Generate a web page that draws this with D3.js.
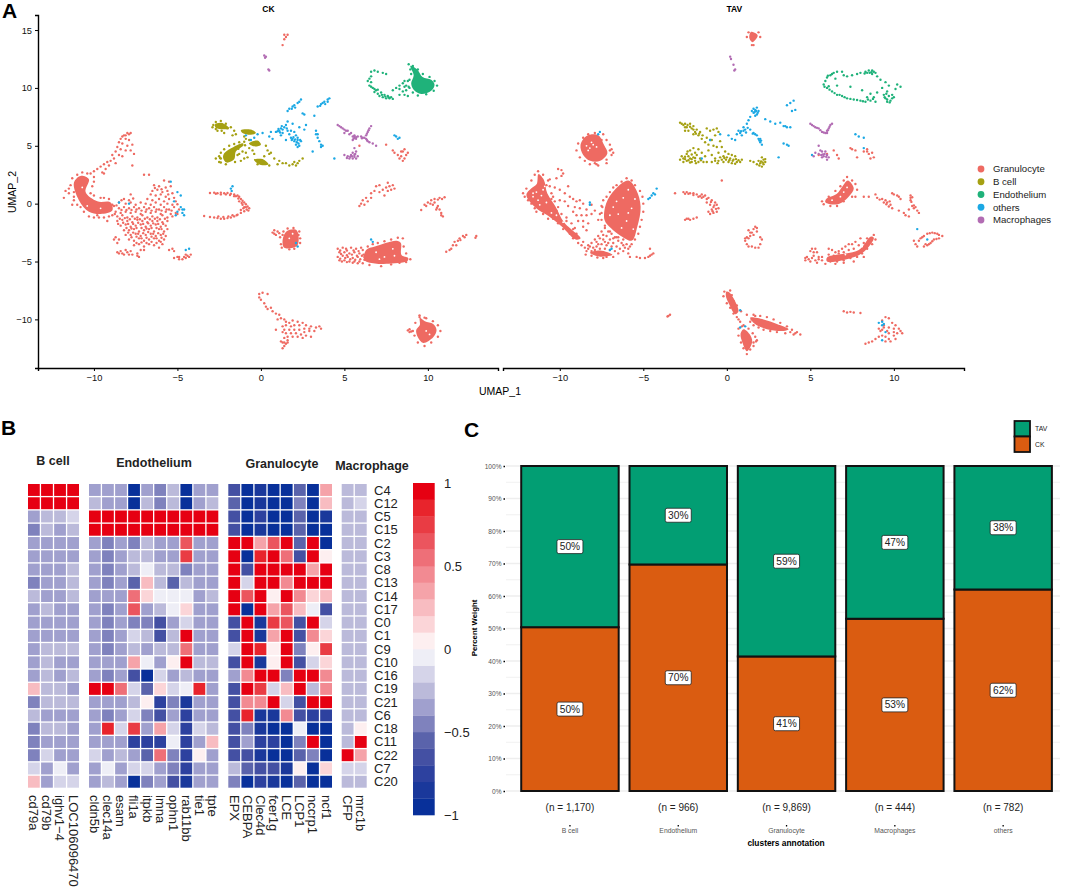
<!DOCTYPE html>
<html>
<head>
<meta charset="utf-8">
<script src="https://cdn.jsdelivr.net/npm/d3@7"></script>
<style>
  body { margin: 0; background: #fff; }
  text { font-family: "Liberation Sans", Arial, sans-serif; }
</style>
</head>
<body>
<div id="chart"></div>
<script>
// ---------- Panel A data: UMAP cells (UMAP_1, UMAP_2) ----------
const cellTypes = ["Granulocyte", "B cell", "Endothelium", "others", "Macrophages"];
const cellColors = ["#ee6a62", "#a5a012", "#1fb27a", "#1ba8e4", "#b26cb3"];

// dense masses, where single cells can't be told apart, are outlines
const ckGranulocyteMass = [
  [[-11.2,1.8],[-10.8,2.4],[-10.3,2.1],[-10.5,1],[-9.8,.2],[-9,.1],[-8.9,-.6],[-9.6,-.9],[-10.3,-.7],[-10.9,.3]],
  [[9.52,-9.87],[9.82,-10.16],[10.32,-10.39],[10.52,-10.92],[10.32,-11.54],[9.72,-12.03],[9.4,-11.54],[9.3,-10.92],[9.52,-10.49]],
  [[6.3,-4],[6.83,-3.7],[8.12,-3.2],[8.38,-3.39],[8.42,-4.44],[8.82,-4.7],[8.78,-4.95],[7.52,-5.2],[6.93,-5.2],[6.2,-4.9]],
  [[1.54,-2.38],[2.14,-2.29],[2.18,-3.62],[1.4,-3.82],[1.3,-3.14]]
];
const ckBcellMass = [
  [[-2.76,6.84],[-2.36,6.98],[-1.9,6.51],[-2.26,6.42],[-2.7,6.56]],
  [[-2.2,4.35],[-1.66,4.88],[-1.06,5.2],[-1.06,5.02],[-1.5,4.5],[-1.6,3.83],[-2.06,3.55],[-2.26,3.92]],
  [[-1.2,6.35],[-.6,6.4],[-.3,6.1],[-.6,5.95],[-1.1,6.1]],
  [[-.72,5.2],[-.2,5.45],[0,5.1],[-.4,4.95]],
  [[-.42,3.8],[.1,3.85],[.45,3.4],[0,3.35]]
];
const ckEndotheliumMass = [
  [[8.95,11.9],[9.36,11.6],[9.68,10.95],[10.2,10.7],[10.4,10.27],[10.2,9.75],[9.6,9.47],[9.15,9.85],[9,10.4],[9.15,11.1]]
];
const tavGranulocyteMass = [
  [[-8.4,5.85],[-7.7,5.92],[-7.35,5.07],[-7.15,4.35],[-7.58,3.7],[-8.18,3.7],[-8.6,4.21],[-8.76,5.07]],
  [[-5.89,2],[-5.42,1.18],[-5.16,-.26],[-5.36,-1.99],[-5.69,-3.19],[-6.39,-2.75],[-6.93,-2.13],[-7.32,-1.41],[-7.22,.03],[-6.72,1.18]],
  [[-8.2,-4.25],[-7.58,-4.05],[-6.85,-4.42],[-7.58,-4.58]],
  [[-11.28,2.55],[-10.95,2.05],[-10.75,.89],[-10.25,-.26],[-9.75,-1.6],[-8.75,-3],[-9.05,-3.1],[-9.9,-1.95],[-10.7,-1.05],[-11.45,-.35],[-12,.75],[-11.7,1.33],[-11.38,1.7]],
  [[-.02,-7.6],[.16,-7.68],[.7,-9.3],[.5,-9.55],[.12,-8.62],[-.06,-7.95]],
  [[1,-10.85],[1.35,-11.25],[1.52,-11.93],[1.2,-12.75],[.95,-12.07],[.82,-11.25]],
  [[1.4,-9.85],[2.2,-10],[3,-10.4],[3.7,-10.85],[3.4,-11],[2.4,-10.85],[1.65,-10.35]],
  [[1.45,14.85],[1.75,14.7],[1.85,14.5],[1.54,13.95],[1.35,14.29]],
  [[7.25,2],[7.6,1.33],[7.32,.65],[6.65,-.05],[5.9,.13],[5.95,.4],[6.59,.85],[6.95,1.55]],
  [[6,-4.65],[7.9,-4],[8.6,-2.85],[8.8,-2.95],[8.5,-3.72],[7.9,-4.45],[6,-5]]
];

// white gaps inside the masses
const ckGaps = [[-10.4,-.2],[-9.6,-.4],[-10.7,1.4],[6.9,-4.2],[7.4,-4.6],[7.9,-3.9],[7.1,-4.8],[8,-4.5],[1.7,-3],[1.9,-2.6],[9.9,-11],[10.1,-11.3]];
const tavGaps = [
  [-11.6,.6],[-11.3,.3],[-11.1,.7],[-11.4,1],[-11,1.2],[-11.2,-.1],[-10.8,.1],[-11.6,.9],[-10.9,1.5],[-10.5,-.8],[-10.2,-1],[-9.8,-1.6],
  [-6.2,.5],[-5.7,-.4],[-6.5,-.9],[-5.9,1.2],[-6.8,-.3],[-6,-1.5],[-5.6,-2.2],[-6.3,-2.1],[-6.6,.2],[-5.5,.4],[-7,-1],[-5.9,-.8],
  [-8.4,5],[-8.2,4.8],[-8,5.1],[-8.3,4.6],[-8.1,5.3],[-7.8,4.9],[6.3,.3],[7,1],[7.2,1.4],[6.8,.6],[7.1,-4.4],[8.1,-3.7]
];

const ckGranulocyte = [
  [-7.8,6.1],[-7.9,6],[-8,6.1],[-8.1,5.9],[-8.2,5.9],[-8.3,5.8],[-8.4,5.6],[-8.1,5.6],[-7.9,5.5],[-8.5,5.3],[-8.3,5.2],[-8,5],[-7.7,5.1],[-8.6,4.9],[-8.4,4.7],[-8.1,4.6],[-7.8,4.6],[-7.6,4.3],[-8.7,4.5],[-8.9,4.2],[-8.5,4.2],[-8.3,4.1],[-8.8,3.9],[-9,3.7],[-9.2,3.6],[-8.7,3.5],[-9.4,3.4],[-9.1,3.3],[-9.6,3.2],[-9.3,3],[-9.8,3],[-10,2.8],[-9.5,2.7],[-10.2,2.6],[-7.7,3.3],[-9.4,2.6],
  [-11.7,1.1],[-11.5,.9],[-11.8,.5],[-11.2,.6],[-11.3,-.1],[-7,2.5],[-6.7,2.5],[-5.8,2],[-5.5,1.9],[-6.4,1.6],[-6.1,1.5],[-5.7,1.4],[-5.4,1.5],[-6.5,1.1],[-6.2,1.2],[-5.9,1],[-5.6,1.1],[-5.3,.9],[-7.8,.8],[-6.6,.8],[-6.3,.7],[-6,.8],[-5.7,.6],[-5.2,.5],[-8.2,.4],[-7.9,.3],[-6.8,.4],[-6.5,.3],[-6.1,.4],[-5.8,.2],[-5.5,.4],[-5.1,.2],
  [-8.5,.1],[-8.1,0],[-7.8,.1],[-7.5,-.1],[-7.2,.1],[-6.9,0],[-6.6,-.1],[-6.3,.1],[-6,-.1],[-5.6,0],[-5.3,-.1],[-8.8,-.2],[-8.5,-.4],[-8.2,-.3],[-7.9,-.4],[-7.6,-.3],[-7.3,-.4],[-7,-.3],[-6.7,-.4],[-6.4,-.3],[-6.1,-.5],[-5.8,-.3],[-5.5,-.5],[-5.2,-.3],[-4.9,-.5],[-8.7,-.7],[-8.4,-.8],[-8.1,-.7],[-7.8,-.8],[-7.5,-.7],[-7.2,-.9],[-6.9,-.7],[-6.6,-.8],[-6.3,-.7],[-6,-.9],[-5.7,-.7],[-5.4,-.9],[-5.1,-.8],
  [-8.9,-1],[-8.6,-1.1],[-8.3,-1],[-8,-1.2],[-7.7,-1.1],[-7.4,-1.2],[-7.1,-1],[-6.8,-1.2],[-6.5,-1.1],[-6.2,-1.2],[-5.9,-1],[-5.6,-1.2],[-5.3,-1.1],[-8.6,-1.5],[-8.3,-1.4],[-8,-1.5],[-7.7,-1.6],[-7.4,-1.4],[-7.1,-1.5],[-6.8,-1.6],[-6.5,-1.5],[-6.2,-1.5],[-5.9,-1.6],[-5.6,-1.5],[-9.2,-1.5],
  [-8.4,-1.9],[-8.1,-1.8],[-7.8,-2],[-7.5,-1.9],[-7.2,-1.8],[-6.9,-2],[-6.6,-1.9],[-6.3,-1.8],[-6,-2],[-5.7,-1.9],[-8.2,-2.3],[-7.9,-2.3],[-7.6,-2.2],[-7.3,-2.4],[-7,-2.3],[-6.7,-2.2],[-6.4,-2.4],[-6.1,-2.2],[-5.8,-2.4],[-5.6,-2.2],
  [-8.7,-2.9],[-8.5,-3.1],[-8.1,-2.7],[-7.8,-2.7],[-7.5,-2.6],[-7.2,-2.8],[-6.9,-2.7],[-6.6,-2.6],[-6.3,-2.8],[-6,-2.7],[-5.7,-2.8],[-8.6,-3.4],[-8.8,-3.1],[-7.9,-3.1],[-7.6,-3.2],[-7.3,-3],[-7,-3.2],[-6.7,-3.1],[-6.4,-3],[-6.1,-3.2],[-5.8,-3.1],[-7.6,-3.6],[-7.3,-3.5],[-7,-3.7],[-6.7,-3.5],[-6.4,-3.6],[-6.1,-3.8],[-5.9,-3.5],[-7.2,-4],[-7,-4],
  [-8.6,-4.2],[-8.4,-4.1],[-8.3,-4.3],[-8.1,-4],[-8,-4.2],[-8.2,-4.4],[-7.9,-4.4],[-7.8,-4.1],[-7.7,-4.4],[-8.5,-4.3],[-7.4,-4.5],[-7.3,-4.6],[-7.4,-4.3],
  [-5.5,-4],[-5.3,-3.9],[-5.2,-4.1],[-5,-4.6],[-5.2,-4.7],[-4.9,-4.8],[-4.7,-4.8],[-4.5,-4.7],[-4.4,-4.5],[-4.3,-4.6],[-4.5,-4.4],[-4.2,-4.4],[-4.6,-4.6],[-4.9,-4.6],
  // second pass over the cloud
  [-8.35,.3],[-7.65,.45],[-6.35,1.35],[-5.95,1.25],[-5.55,.8],[-5,-.05],[-8.65,-.15],[-8.35,-.55],[-8.05,-.55],[-7.75,-.55],[-7.45,-.5],[-7.15,-.6],[-6.85,-.5],[-6.55,-.6],[-6.25,-.5],[-5.95,-.6],[-5.65,-.5],[-5.35,-.6],[-5,-.9],[-8.75,-.9],[-8.45,-1.3],[-8.15,-1.25],[-7.85,-1.35],[-7.55,-1.3],[-7.25,-1.35],[-6.95,-1.3],[-6.65,-1.35],[-6.35,-1.3],[-6.05,-1.35],[-5.75,-1.3],[-8.55,-1.75],[-8.25,-1.65],[-7.95,-1.75],[-7.65,-1.75],[-7.35,-1.65],[-7.05,-1.75],[-6.75,-1.7],[-6.45,-1.7],[-6.15,-1.75],[-5.85,-1.75],[-8.05,-2.1],[-7.75,-2.15],[-7.45,-2.1],[-7.15,-2.1],[-6.85,-2.15],[-6.55,-2.1],[-6.25,-2.1],[-5.95,-2.2],[-7.95,-2.5],[-7.65,-2.5],[-7.35,-2.6],[-7.05,-2.55],[-6.75,-2.45],[-6.45,-2.6],[-6.15,-2.55],[-5.85,-2.6],[-7.75,-2.9],[-7.45,-2.85],[-7.15,-3],[-6.85,-2.95],[-6.55,-2.85],[-6.25,-3],[-5.95,-2.95],[-7.45,-3.4],[-7.15,-3.35],[-6.85,-3.4],[-6.55,-3.3],[-6.25,-3.4],[-6,-3.3],
  [-11.4,1.6],[-11.5,1.3],[-11.2,1],[-11.2,.3],[-11,-.1],[-10.8,-.3],[-10.6,-.7],[-10.3,-1.1],[-10,-1.2],[-9.7,-1.2],[-9.4,-1.2],[-9.1,-1.1],[-8.9,-.1],[-9.1,.4],[-9.4,.5],[-9.6,.5],[-10,.7],[-10.2,.9],[-10.1,1.5],[-10,1.9],[-10,2.3],[-10.4,2.6],[-10.7,2.7],[-11,2.5],[-11.3,2.2],[-10.9,2.2],[-9.3,-.3],[-9.8,-1],
  [-3.05,.92],[-2.8,.95],[-2.6,.9],[-2.4,.95],[-2.2,.9],[-2,.92],[-1.8,.85],[-1.6,.8],[-1.5,.65],[-1.3,.6],[-1.2,.4],[-1.1,.25],[-1,.1],[-.9,-.05],[-.8,-.25],[-.7,-.4],[-.85,-.5],[-1,-.65],[-.9,-.3],[-1.1,-.1],[-1.2,-.8],[-1.4,-.95],[-1.6,-1.1],[-1.8,-1.2],[-2,-1.25],[-2.2,-1.3],[-2.4,-1.3],[-2.6,-1.25],[-2.8,-1.2],[-3.05,-1.15],[-3.4,-1.07],[-1.4,.7],[-1.3,.2],
  [-1,-.3],[-.75,-.6],[-1.2,-.55],[-1.05,-.4],[-1.15,.05],[-1.35,.45],[-1.6,.65],[-1.85,.75],[-2.1,.8],[-2.4,.8],[-2.7,.85],[-1.45,-1],[-1.7,-1],[-1.95,-1.1],[-2.25,-1.15],[-2.55,-1.1],
  [.8,-2.3],[.8,-2.6],[1,-2.4],[.9,-2.7],[.7,-2.5],[1.1,-2.55],
  [1.2,-3.5],[1.15,-2.9],[1.35,-2.4],[1.6,-2.15],[1.95,-2.1],[2.3,-2.4],[2.35,-3],[2.35,-3.4],[2,-3.9],[1.7,-3.95],[1.3,-2.7],[2.25,-2.7],[1.25,-3.8],
  [1.4,14.6],[1.5,14.4],[1.6,14.6],[1.4,14.2],[1.3,13.7],
  [7.9,4.6],[8,4.4],[8.2,4.2],[8.4,4.1],[8.5,4.5],[8.3,3.9],[8.6,3.9],[8.7,4.2],[8.8,4.4],[8.5,3.7],[8.6,4.7],[8.4,4.5],[7.5,5.1],[5.9,5],
  [7.6,1.8],[7.7,1.5],[7.9,1.6],[8,1.3],[7.8,1.2],[7.6,1.1],[7.5,1.4],[7.3,1.2],[7.1,1],[7.1,1.6],[6.9,1.5],[6.8,1.1],[6.6,.9],[6.6,.5],[6.3,.5],[6.1,.3],[6,0],[5.9,-.2],[6.2,-.1],[6.4,.2],[7.4,.7],
  [9.8,-.1],[10,.1],[10.2,.3],[10.4,.4],[10.7,.5],[11,.55],[10.4,.1],[10.3,-.1],[10.6,-.2],[10.7,-.5],[10.8,-.8],[10.9,-1.1],[10.5,-.5],[9.6,-.55],[9.9,-.2],[10.15,0],[10.6,.35],[10.85,.4],[10.55,-.35],[10.8,-1],
  [11.1,-4.15],[11.4,-3.9],[11.5,-3.6],[11.6,-3.3],[11.8,-3.2],[11.9,-3],[12.1,-2.8],[12.2,-2.9],[11.7,-3.6],[12.3,-2.7],[12.9,-2.8],[12.85,-2.95],[11.3,-4],[11.95,-3.15],
  [-.1,-7.8],[.1,-7.7],[.4,-7.8],[-.1,-8.1],[0,-8.3],[.2,-8.6],[.3,-8.9],[.4,-9.1],[.6,-9],[.7,-9.3],[.9,-9.5],[1.1,-9.6],[1.2,-9.9],[1.4,-10],[1,-10],
  [1.5,-10.2],[1.7,-10.3],[1.9,-10.1],[2.2,-10.2],[2.5,-10.3],[2.7,-10.5],[3,-10.6],[3.3,-10.7],[3.6,-10.8],[3.5,-10.6],[1.3,-10.6],[1.5,-10.5],[1.8,-10.6],[2,-10.5],[2.3,-10.5],[2.6,-10.8],[2.9,-10.8],[1.4,-10.9],[1.7,-10.9],[2,-10.9],[2.3,-10.9],[2.6,-11.1],[2.9,-11],[3.2,-11],[1.5,-11.2],[1.8,-11.2],[2.1,-11.2],[2.4,-11.3],[2.7,-11.4],[3,-11.5],[1.3,-11.1],[.9,-10.9],[1.6,-11.5],[1.9,-11.5],[2.2,-11.5],[2.5,-11.6],[1.6,-11.8],[1.4,-11.6],[1.5,-12.1],[1.4,-12.3],[1.3,-12.5],[1.3,-12],[1.2,-11.9],[1.4,-12],[1.6,-12],
  [8.8,-10.95],[9,-11.05],[8.9,-10.85],[9.5,-9.8],[9.8,-9.85],[9.5,-9.65],[9.9,-9.9],[10.3,-10.15],[10.6,-10.5],[10.75,-11],[10.6,-11.5],[10.2,-12],[9.8,-12.3],[9.4,-12],[9.2,-11.4],[9.1,-11],[9.25,-10.3],[8.9,-11.1],
  [4.6,-3.9],[4.9,-3.8],[5.1,-3.9],[5.4,-3.8],[5.7,-3.9],[6,-3.8],[4.7,-4.2],[5,-4.2],[5.3,-4.3],[5.6,-4.2],[5.9,-4.3],[4.6,-4.6],[4.9,-4.5],[5.2,-4.6],[5.5,-4.7],[5.8,-4.6],[4.7,-4.9],[5,-4.9],[5.3,-5],[5.6,-5],[5.9,-5],[6.2,-4.6],[6.1,-4],
  [4.75,-4.05],[5.15,-4.05],[5.55,-4.05],[5.85,-4.1],[6.15,-4.4],[4.8,-4.35],[5.15,-4.45],[5.45,-4.4],[5.75,-4.5],[6.05,-4.5],[4.75,-4.75],[5.05,-4.7],[5.35,-4.8],[5.65,-4.85],[5.95,-4.8],[6.2,-4.85],[4.85,-5],[5.15,-5.05],[5.5,-5.1],[5.8,-5.15],[6.1,-5.15],[6.5,-5.3],[7.2,-5.4],[7.8,-5.25],[8.3,-5.1],[8.7,-5.05],[8.95,-4.8],[8.7,-4.3],[8.55,-3.7],[8.5,-3],[8.2,-2.95],[7.8,-3.1],[7.4,-3.25],[7,-3.4],[6.7,-3.5],[6.4,-3.7]
];
const ckBcell = [
  [-2.9,6.6],[-2.6,6.3],[-2.2,6.1],[-2,6.5],[-1.6,6.3],[-1.7,5.9],[-1.5,6],[-.9,5.6],[-1,5.8],[-.7,5.5],
  [-2.5,4.1],[-2.4,3.9],[-2.7,3.9],[-2.5,3.6],[-1.3,4.3],[-1.1,4.5],[-.9,4.4],[-1,3.9],[-.8,4],[-1.2,3.7],[-.5,4.6],[-.4,4.3],[-.7,4.8],
  [.3,5],[.4,4.6],[.5,4.3],[.6,4.4],[.8,3.9],[1,3.4],[1.1,3.7],[1.3,3.5],[1.5,3.5],[1.7,3.3],[1.9,3.4],[2,3.6],[2.1,3.3],[2.3,3.7],[2.5,3.9],[2.2,3.5],[.5,3.3],[-.2,3.4],[.2,4.1],
  [-2.85,6.8],[-2.7,7.05],[-2.4,7.15],[-2.1,6.9],[-1.8,6.6],[-2.7,6.45],[-2.35,6.3],[-2.4,4.4],[-2.2,4.7],[-1.9,5],[-1.6,5.15],[-1.3,5.3],[-1,5.35],[-.95,5.05],[-1.35,4.75],[-1.4,4.2],[-1.55,3.6],[-2.1,3.4],[-2.4,3.55],[-2.45,3.95]
];
const ckEndothelium = [
  [6.6,11.4],[6.8,11.5],[7,11.4],[6.6,11],[6.5,10.8],[6.4,10.6],[6.5,10.2],[6.7,10],[6.9,9.8],[7,9.5],[7.1,9.3],[7.3,9.2],[7.5,9.1],[7.7,9.1],[7.8,9.2],[7.2,9.6],[7.4,9.4],[7.6,9.3],[6.8,9.9],[7.3,11.3],[7.5,11.2],
  [6.6,10.5],[6.6,10.1],[6.8,9.65],[7,9.85],[7.25,9.4],[7.45,9.25],[7.65,9.2],[7.9,9.05],
  [8.1,10],[8.3,10.2],[8.5,10.4],[8.6,10.6],[8.3,9.9],[8.5,9.7],[8.7,9.8],[8.9,10],[8.6,10.1],[8.9,10.7],[8.7,10.2],[7.9,9.8],[8.3,9.4],[8.6,9.4],[8.8,9.3],
  [8.85,12.05],[9.1,11.9],[9.4,11.6],[9.7,11.2],[10.1,10.95],[10.4,10.6],[10.55,10.2],[10.35,9.75],[9.9,9.45],[9.4,9.35],[9.1,9.6],[8.85,10.1],[8.8,10.6],[9,11.2],[8.95,11.6]
];
const ckOthers = [
  [-5.4,1.9],[-5,1],[-4.8,.7],[-5.2,.2],[-4.8,-.3],[-4.7,-.5],[-5,-.7],[-4.7,-.8],[-4.6,-.5],[-4.6,-1],[-5.1,-1],[-4.5,-4],[-4.3,-3.9],[-8.5,.1],[-7.9,0],[-1.8,1.3],[-1.75,1.1],[-1.7,1.5],
  [-.9,5.9],[-.6,5.5],[-.4,5.7],[-.2,6],[.1,6.1],[.5,5.8],[.7,5.6],[.6,6.2],
  [.9,6.2],[1.1,6.3],[1.2,6.5],[1.4,6.6],[1.5,6.8],[1.3,6.1],[1.6,7.1],[1.3,6.4],[1.2,5.9],[1.7,6],[1.9,5.6],[2,5.4],[2.2,5.5],[2.1,5.9],[2,6.2],[2.3,5],[2.2,4.9],[2.1,5.1],[1.8,6.3],[2.3,6.6],[2.6,6.4],[2.7,6.8],[1.5,5.5],[1.9,6.9],
  [1,6.25],[1.15,6.15],[1.05,6.45],[1.25,6.7],[1.55,6.5],[1.6,6.3],[1.95,5.75],[2.05,5.55],[2.15,5.3],[2.25,5.2],[2.2,5.7],[1.85,5.5],[2.35,5.5],[2.4,5.4],[1.8,5.7],
  [1.7,8.2],[1.9,8.4],[2,8.5],[2.2,8.7],[2.3,8.8],[2.4,9],[1.6,8],[3.4,8.4],[3.6,8.6],[3.8,8.8],[4,9],[4.1,9.1],[3.7,8.7],[2.5,7.8],[2.6,7.7],[3.2,7.6],[1.85,8.2],[2.05,8.3],[3.55,8.45],[3.85,8.6],[4,8.8],
  [3.3,6.3],[3.4,6],[3.4,5.7],[3.5,5.4],[3.6,5.1],[3.6,4.9],[3.7,5],[3.3,6],[3.1,4.5],[4.4,3.9],[8,5.9],[8.1,5.8],[8.2,5.6],[8.3,5.7],[2.2,-3.7],[2.1,-3.4],[6.6,-3.1],[6.7,-3.3]
];
const ckMacrophages = [
  [.2,12.8],[.3,12.7],[.25,12.6],[.45,11.6],[.5,11.5],
  [4.6,6.8],[4.8,6.6],[5,6.4],[5.2,6.3],[5.3,6],[5.5,5.8],[5.6,5.7],[5.6,5.9],[5.7,5.6],[5.8,5.8],[5.5,5.5],[6,5.8],[6.1,5.7],[6.3,5.6],[6.3,5.9],[6.4,6.2],[6.5,6.5],[6.6,6.7],[6.4,5.4],[6.5,5.3],[6.7,5.2],[6.9,5],[5,6.1],
  [4.7,6.7],[4.9,6.5],[5.1,6.3],[5.4,6.1],[5.6,5.8],[5.7,5.75],[5.55,5.6],[6.2,5.7],[6.35,5.5],[6.05,5.65],[6.45,6.35],[6.35,6.05],
  [5,4.2],[5.2,4.1],[5.4,4.2],[5.5,4.4],[5.6,4.2],[5.7,4.5],[5.5,3.9],[5.3,3.9],[5.7,3.9],[5.6,4.8],[5.8,4.1],[5.35,4.05],[5.45,4.1],[5.6,4.05],[5.65,4.3],[5.15,3.95]
];

const tavGranulocyte = [
  [-7.4,6],[-7.2,5.5],[-7,5.1],[-6.9,4.7],[-6.9,4.2],[-7.2,3.5],[-7.8,3.4],[-8.2,3.4],[-7.7,3.3],[-6.8,4.4],
  [-8.9,5.2],[-9,4.6],[-8.8,4],[-8.5,3.7],[-7.9,3.5],[-7.2,3.8],[-7,4.6],[-7.5,5.5],[-7.9,6.1],[-8.3,6],[-8.6,5.7],
  [-9.9,2.9],[-10.2,2.2],[-10.6,2.1],[-10.8,1.6],[-10.3,1.4],[-10,1.2],[-9.7,.9],[-9.5,1.5],[-10.4,.6],[-10,.3],[-9.7,.2],[-9.4,.6],[-9.2,.4],[-9,.2],[-8.8,.3],[-8.6,0],[-9.5,-.2],[-9.1,-.3],[-8.8,-.4],[-8.4,-.5],[-9.2,-.7],[-9,-1],[-8.7,-1],[-8.4,-1],[-8.1,-.9],[-8.9,-1.5],[-8.6,-1.5],[-8.3,-1.7],[-8.6,-2],[-9.1,-2.1],[-8.4,-2.3],[-8.1,-.1],[-7.9,-.6],[-7.6,-.9],[-7.7,-1.4],[-7.5,-.2],[-9.8,2.6],[-10.1,3],[-9.9,2.4],[-8.2,-3.7],[-8.5,-3.8],[-8.7,-3.6],
  [-12.2,.9],[-12.1,.6],[-11.9,.3],[-11.7,0],[-11.5,-.4],[-11.4,-.7],[-11,-.9],[-10.7,-1.3],[-10.4,-1.3],[-10.1,-1.7],[-9.8,-2.2],[-9.4,-2.6],[-9.2,-3],[-8.9,-3.4],[-8.6,-3.3],[-9,-2.6],[-9.3,-1.7],[-9.6,-1.2],[-9.9,-.9],[-10.1,-.3],[-10.3,.2],[-10.5,.9],[-10.6,1.5],[-10.7,2],[-11,2.5],[-11.3,2.8],[-11.5,2.5],[-11.7,2],[-12,1.3],[-10.5,.4],[-10.2,-.6],[-9.6,-1.5],[-9.2,-2.2],
  [-6,2.2],[-5.7,2],[-5.5,1.6],[-5.2,1.1],[-5.05,.6],[-5,0],[-5,-.7],[-5.1,-1.4],[-5.2,-2],[-5.3,-2.6],[-5.5,-3.1],[-5.7,-3.5],[-6.2,-3.1],[-6.6,-2.9],[-7,-2.4],[-7.3,-1.9],[-7.5,-1.4],[-7.5,-.8],[-7.45,-.3],[-7.4,.3],[-7.2,.6],[-7,1],[-6.8,1.4],[-6.6,1.6],[-6.3,1.9],
  [-8.3,-3.6],[-8.1,-3.4],[-7.9,-3.1],[-7.7,-2.8],[-7.5,-2.4],[-7.3,-2.1],[-7.1,-2.4],[-6.9,-2.6],[-6.7,-2.9],[-6.5,-3.2],[-7.2,-2.8],[-7,-3.1],[-7.4,-3.1],[-6.8,-3.4],[-7.8,-3.7],[-7.5,-3.5],[-7.2,-3.6],[-6.9,-3.7],[-6.6,-3.7],[-6.3,-3.4],[-6,-3.5],[-5.8,-3.7],[-5.9,-3.9],[-6.1,-3.8],[-5.9,-4.3],[-5.8,-4.6],[-8.4,-4.1],[-8.1,-4.1],[-7.9,-4],[-7.6,-3.9],[-7.3,-3.9],[-7,-4],[-6.7,-4.1],[-6.5,-4.3],[-6.8,-4.6],[-7.2,-4.6],
  [-7.8,-3.3],[-7.6,-3],[-7.4,-2.7],[-7.1,-3.4],[-6.8,-3],[-6.5,-2.9],[-6.2,-3.6],[-8,-3.8],[-8.3,-3.9],[-7.7,-3.5],[-7.3,-3.3],[-6.4,-3.9],[-6.2,-4.1],[-8.45,-4.4],[-8.1,-4.5],[-7.75,-4.65],[-7.4,-4.7],
  [-5.4,-4.6],[-5.2,-4.7],[-4.9,-4.7],[-4.7,-4.6],[-4.5,-4.4],[-4.4,-4.3],[-4.6,-4.5],[-4.6,-3.9],
  [-3.5,-9.7],[-3.4,-9.6],[-3.55,-9.75],
  [-3.1,.9],[-2.6,1],[-2.4,1],[-2.2,.9],[-2,.9],[-1.8,.8],[-1.5,.8],[-1.3,.7],[-1.1,.5],[-.9,.3],[-.7,.1],[-.6,-.1],[-.5,-.4],[-.6,-.7],[-.8,-.8],[-1,-.9],[-1.1,-.7],[-.9,-.5],[-.8,-.3],[-1,-.1],[-1.2,.1],[-1.5,.5],[-1.7,.6],[-2.4,-1.3],[-2.5,-1.4],[-2.3,-1.3],[-2.2,-1.4],[-2,-1.3],[-1.8,-1.2],
  [-2.5,.85],[-2.3,.85],[-2,.75],[-1.6,.65],[-1.4,.6],[-1.2,.4],[-.95,.15],[-.75,-.15],[-.65,-.45],[-.85,-.65],
  [1.3,-3],[1.4,-2.8],[1.5,-2.5],[1.6,-2.2],[1.7,-2],[1.8,-2.1],[1.8,-2.4],[1.6,-2.7],[1.3,-2.3],[1.1,-3],[1.1,-3.2],[1.2,-3.5],[1.3,-3.7],[1.5,-3.7],[1.7,-3.8],[1.9,-3.8],[2,-3.5],[2.1,-3.1],[2,-2.9],[1.2,-2.9],[1.4,-2.5],
  [-.15,-7.6],[-.2,-8],[0,-8.6],[.2,-9],[.4,-9.5],[.6,-9.8],[.85,-9.3],[.6,-8.8],[.4,-8.4],[.3,-7.9],[.2,-7.5],
  [.7,-10],[.9,-10.6],[.8,-10.2],[1.6,-12],[1.8,-11.8],[1.7,-11.5],[1.5,-10],[1.7,-9.7],
  [.7,-10.8],[.7,-11.4],[.85,-12],[1,-12.5],[1.2,-13],[1.4,-12.6],[1.6,-12.3],[1.75,-11.9],[1.55,-11.2],[1.3,-10.8],[1,-10.5],
  [1.2,-9.6],[1.6,-9.6],[2,-9.7],[2.4,-9.8],[2.8,-10],[3.2,-10.3],[3.6,-10.6],[3.9,-10.9],[4.2,-11.1],[4.4,-11.3],[4,-11.3],[3.5,-11.2],[3,-11.1],[2.6,-11],[2.2,-10.9],[1.9,-10.7],[1.6,-10.5],[1.4,-10.2],[4.1,-11.2],[3.8,-11.1],
  [1.3,14.8],[1.2,14.4],[1.9,14.8],[2,14.4],[1.6,13.7],[1.5,13.7],
  [-.3,2],[7.8,4],[5.5,4.2],[6,4.3],[6.4,4.6],[6.6,4.2],[6.7,3.9],[7.4,4.8],[7.5,4.7],[7.7,4.6],[8.4,4.5],[8.7,4.4],[8.8,4],[8.5,4.3],[8.2,4.5],[8.6,3.9],[8.4,4.7],
  [7.5,2],[7.7,1.7],[7.8,1.2],[7.5,.6],[7,.2],[6.6,-.2],[6.2,-.2],[5.8,-.05],[5.7,.2],[6.1,.6],[6.5,1.1],[6.8,1.5],[7,2],[7.2,2.3],
  [7.7,.6],[8.2,.6],[8.5,.6],[8.9,.8],[9,.5],[9.3,.4],[9.5,.3],[9.6,.1],[9.8,-.1],[9.9,-.4],[9.4,.1],[9.9,.9],[10,.8],[10.2,.7],[10.3,.6],[10.4,.4],[11,.7],[11,.5],[11,.3],[11.1,-.2],[11.2,-.4],[10.9,-.5],[11.4,-.6],[11.5,-.8],[11.3,-.3],[10.9,-1.1],[10.7,-1],[10.3,-.6],[10.6,-.8],
  [9.15,.35],[9.7,-.25],[9.75,.2],[9.55,-.05],[11.1,.55],[11.05,.15],[11.2,-.15],
  [11.2,-3.2],[11.3,-3.5],[11.4,-3.7],[11.5,-3.2],[11.6,-3],[11.8,-2.8],[12,-2.6],[12.3,-2.5],[12.6,-2.6],[12.9,-2.8],[12.7,-2.7],[11.8,-3.7],[12,-3.6],[12.2,-3.4],[12.4,-3.1],[12.7,-3],[11.9,-3.5],[11.7,-2.9],[12.15,-2.55],[12.45,-2.55],[12.1,-3.5],[12.3,-3.25],[12.55,-3.05],
  [4.7,-4.7],[4.9,-4.8],[5.1,-4.7],[5.3,-4.9],[5.5,-4.8],[5.7,-4.9],[5,-4.1],[5.2,-4.2],[5.3,-3.9],[5.1,-3.9],[5.4,-4.2],[6.1,-3.9],[6.3,-4],[6.5,-4.2],[6.7,-4.1],[6.9,-3.9],[7.1,-3.7],[7.3,-3.5],[7.5,-3.5],[7.7,-3.3],[8,-3],[8.4,-3],[6.5,-5.2],[7,-5.1],[7.6,-5],[8.2,-4.6],
  [6.1,-4.4],[6.4,-4.5],[6.7,-4.3],[7,-4.2],[7.3,-4],[7.6,-3.9],[7.9,-3.6],[8.2,-3.4],[8.5,-3.2],[6.2,-5],[6.6,-5],[7,-4.9],[7.4,-4.7],[7.8,-4.6],[8.1,-4.3],[8.4,-3.9],[8.7,-3.5],[8.9,-3.1],[8.8,-2.7],[5.7,-4.6],[5.5,-4.6],[5.2,-4.5],[4.8,-4.6],[4.7,-4.9],[5,-5],[5.4,-5.1],[5.9,-5.2],
  [7,-9.3],[7.2,-9.4],[7.4,-9.35],[7.6,-9.4],[8,-9.45],
  [8.3,-12.1],[8.5,-12],[8.7,-11.9],[8.9,-11.7],[9.1,-11.5],[9.2,-11],[9.4,-10.5],[9.3,-10.1],[9.5,-9.8],[9.7,-9.9],[9.9,-10.3],[10.1,-10.5],[10.3,-10.8],[10.4,-11],[10.2,-11.2],[10,-11.4],[9.7,-11.7],[9.5,-11.5],[9.7,-11.2],[10,-11.1],[9.3,-10.9],[9.6,-11],[9.4,-10.7],[9.7,-10.7],[10,-10.8],[9.1,-10.8],[9.3,-11.4],[9.5,-11.9],[9.8,-11.9],[10.1,-11.7],[10.5,-11.2]
];
const tavBcell = [
  [-2.8,7],[-2.6,6.8],[-2.4,6.6],[-2.2,6.9],[-2.1,6.5],[-1.9,6.2],[-1.7,5.9],[-1.5,5.6],[-1.3,5.3],[-2.5,6.3],[-2,6.7],[-2.3,6.3],[-1.8,6.4],[-1.6,6.2],[-2,6],
  [-2.7,6.9],[-2.5,6.9],[-2.35,6.8],[-2.5,6.6],[-2.2,6.65],[-2,6.4],[-1.85,6.05],[-1.65,6.05],[-1.45,5.9],[-1.2,5.7],[-1,5.5],
  [-1.2,6.5],[-1,6.3],[-.8,6.4],[-.6,6.5],[-.5,6.2],[-.7,5.9],[-.9,5.5],[-1.1,5.1],[-.8,5],[-1.1,4.6],[-.6,4.9],[-.4,5.4],[-.3,4.9],[-.5,4.4],[-.9,4.2],[-.7,3.9],[-1.3,4.1],
  [-2.7,4.1],[-2.6,3.9],[-2.4,4.3],[-2.2,4.6],[-2,4.8],[-2.4,3.7],[-2.2,3.9],[-2,4],[-1.8,4.2],[-2.1,3.6],[-1.9,3.7],[-1.6,3.9],[-1.7,4.7],[-1.5,4.4],[-1.7,3.6],[-1.4,3.6],[-2.6,3.6],[-1.9,4.4],[-2.8,3.8],
  [-2.5,4.05],[-2.3,4.1],[-2.1,4.25],[-2.5,3.85],[-2.3,3.75],[-2.1,3.85],[-1.9,3.95],[-2.35,4.5],[-2.2,3.55],[-1.85,3.5],[-1.55,3.75],
  [-1.2,3.6],[-.9,3.6],[-.7,3.7],[-.5,3.7],[-.4,4],[-.2,4.1],[0,4],[.2,3.9],[.4,3.8],[.6,3.6],[.8,3.6],[.9,3.8],[.3,3.5],[.1,3.6],[-.2,3.6],[.5,4.1],[.1,4.3],[-.1,4.5],[.3,4.2],
  [-.05,3.8],[.15,3.75],[.35,3.7],[-.3,3.8],[.55,3.85],[.7,3.75],[-.55,3.5],[.5,3.45],[-.15,3.95],
  [1.4,3.7],[1.6,3.6],[1.8,3.4],[2,3.5],[2.2,3.8],[2.2,3.4],[2.3,3.6],[2.1,3.2],[1.9,3.7],[2.1,4],[2.05,3.65],[2.15,3.55],[1.95,3.3],[2.3,3.85]
];
const tavEndothelium = [
  [5.8,10.3],[5.9,10.6],[6,10.9],[6.2,11.1],[6.4,11.3],[6.6,11.4],[6.9,11.4],[7,11.1],[7.2,11],[7.5,11.1],[7.8,11.2],[8,11.3],[8.3,11.4],[8.5,11.5],[8.7,11.5],[8.9,11.3],[8.7,11.2],[9,11],[9.2,10.7],[9.5,10.5],[9.3,10],[9.6,9.7],[9.9,9.4],[9.5,9.1],[9.6,8.8],[9.8,8.9],[10,9.2],[9.4,9.4],[10.2,10.3],[10.4,10.1],[10.1,9.9],[9.7,10.2],
  [6,10],[6.3,9.7],[6.6,9.4],[6.9,9.3],[7.2,9.1],[7.6,9],[8,8.9],[8.3,8.8],[8.6,8.9],[8.9,8.8],[8.8,9.2],[8.4,9.2],[8.6,9.5],[7.4,10.1],[6.6,10.2],[6.5,10.8],[8.1,9.8],[9,9.6],
  [5.85,10.1],[6.1,10.15],[6.15,9.85],[6.45,9.55],[6.75,9.4],[7.05,9.2],[7.4,9.05],[7.8,8.95],[8.15,8.85],[8.45,9],[8.75,9.05],[8.55,11.3],[8.25,11.25],[8.65,11.35],[8.8,11.4],[8.4,11.3],[6.05,11.05],[6.3,11.2],[9.45,9.2],[9.6,9],[9.7,9.3],[9.75,8.75],[9.55,9.5],[9.9,9.1]
];
const tavOthers = [
  [-7.7,6],[-7.6,6.2],[-8.2,.1],[-8.2,-.1],[-4.2,1.3],[-4.4,.9],[-4.5,.7],[-4.6,.5],[-4.3,.8],[-4.7,.4],[-7,-4],[-6.9,-3.9],
  [.1,5.9],[.3,5.6],[.5,5.5],[.6,6],[.9,5.9],[.8,6.1],[.7,6.3],[1,6.6],[1.1,6.4],[1.2,6.9],[1.3,7.2],[1.4,7.5],[1.5,8],[1.6,8.2],[1.7,8.1],[1.8,8.3],[1.9,8],[1.8,7.7],[1.7,7.6],[1.4,6.4],[1.6,6.1],[1.8,5.9],[1.9,5.6],[2,5.3],[2.1,5.1],[2,5.6],[2.3,7.3],[2.6,7.1],[2.9,6.9],[3.2,7],[3.4,6.7],[3.6,6.6],[3.8,6.6],[3.5,6.7],[3.4,5.2],[3.7,5],[3.6,5.1],[3.1,4],
  [.85,6.25],[1,6.3],[1.15,6.15],[1.25,6.55],[1.65,7.9],[1.75,8],[1.85,7.85],[1.6,7.85],[1.55,6.05],[1.7,6],[1.95,5.45],[2.05,5.45],
  [3.6,8.5],[3.8,8.7],[4,8.9],[3.9,8],[4.1,8.1],[-1,5.5],[-.4,6],[-1.5,3.9],[.8,-9.2],[.8,-10.7],[1.1,-10.6],[9.4,-10.4],[9.3,-10.2],[9.1,-10.3],[9.5,-11.1],[9.3,-11.8],[12,-3.1],[11.4,-2.2],[8.2,4.8],[7.7,6],[7.9,5.8],[8.2,5.7],[5.1,4.2],[9.3,-10.5]
];
const tavMacrophages = [
  [.2,12.7],[.25,12.5],[.4,12],[.45,11.5],[.5,11.6],
  [5,6.9],[5.1,6.8],[5.3,6.6],[5.5,6.5],[5.7,6.2],[5.9,6.1],[6.2,6.8],[6.1,6.5],[6,6.1],[6.3,6.9],[6,6.3],[5.5,5],[5.3,4.4],[5.5,4.3],[5.7,4.5],[5.9,4.5],[6,4.2],[5.8,4.1],[6,3.8],[5.7,4],[5.2,4.1],[5.6,4.6],[6.1,4],
  [5.2,6.7],[5.4,6.55],[5.6,6.35],[5.8,6.15],[6.15,6.65],[6.05,6.35],[5.85,4.3],[5.95,4.05],[5.75,4.25],[5.65,4.2]
];

// ---------- Panel B data: heatmap ----------
const heatRows = ["C4","C12","C5","C15","C2","C3","C8","C13","C14","C17","C0","C1","C9","C10","C16","C19","C21","C6","C18","C11","C22","C7","C20"];
const bcellGenes = ["cd79a","cd79b","ighv1\u22124","LOC106096470"];
const endoGenes = ["cldn5b","clec14a","esam","fli1a","itpkb","lmna","ophn1","rab11bb","tie1","tpte"];
const granGenes = ["EPX","CEBPA","Clec4d","fcer1g","LCE","LCP1","nccrp1","ncf1"];
const macroGenes = ["CFP","mrc1b"];
const heatPalette = ["#08309a","#1a389b","#2d419f","#4450a3","#5a63ab","#7f82bd","#a0a0ce","#bbbada","#d5d4e9","#eeeef6",
                     "#fdeff0","#fbd5d8","#f8bcc1","#f5a3a9","#f28a92","#ee6f78","#eb555e","#e93c44","#e8242c","#e60012"];
const colorbarTicks = [1, 0.5, 0, -0.5, -1];

const bcellValues = [
  [.95,.95,.95,.95],[.95,.95,.95,.95],[-.35,-.25,-.25,-.15],[-.45,-.25,-.35,-.25],[-.35,-.35,-.35,-.35],[-.35,-.35,-.35,-.35],
  [-.35,-.35,-.35,-.25],[-.45,-.35,-.35,-.25],[-.25,-.35,-.35,-.25],[-.35,-.25,-.35,-.35],[-.35,-.35,-.35,-.35],[-.35,-.35,-.35,-.35],
  [-.35,-.25,-.25,-.25],[-.35,-.25,-.35,-.35],[-.35,-.25,-.35,-.25],[.25,-.25,-.25,-.35],[-.45,-.25,-.25,-.25],[-.25,-.35,-.35,-.35],
  [-.45,-.25,-.25,-.35],[-.45,-.35,-.35,-.35],[-.45,-.15,-.35,-.35],[-.15,-.35,-.05,-.35],[.25,-.35,-.15,-.15]
];
const endoValues = [
  [-.35,-.35,-.35,-.95,-.35,-.45,-.25,-.95,-.35,-.35],
  [-.25,-.35,-.35,-.95,-.25,-.45,-.25,-.95,-.35,-.25],
  [.95,.95,.95,.95,.95,.95,.95,.95,.95,.95],
  [.95,.95,.95,.95,.95,.95,.95,.95,.95,.95],
  [-.35,-.45,-.35,-.45,-.25,-.35,-.35,.65,-.35,-.35],
  [-.35,-.45,-.35,-.25,-.25,-.35,-.35,.75,-.35,-.35],
  [-.35,-.45,-.35,-.25,-.05,-.25,-.25,-.45,-.35,-.35],
  [-.35,-.45,-.35,-.55,.25,-.25,-.55,-.25,-.35,-.35],
  [-.35,-.35,-.35,.55,.15,-.05,-.05,-.05,-.35,-.25],
  [-.35,-.45,-.35,.65,-.35,-.25,-.05,.15,-.35,-.35],
  [-.35,-.45,-.35,-.45,-.45,-.65,-.35,-.15,-.35,-.35],
  [-.35,-.45,-.35,-.15,-.25,-.65,-.25,.95,-.35,-.35],
  [-.35,-.45,-.35,-.25,-.35,-.25,-.25,.55,-.35,-.35],
  [-.35,-.35,-.35,.35,-.05,-.35,.05,.95,-.25,-.25],
  [-.35,-.45,-.35,-.65,-.95,-.15,-.35,-.25,-.35,-.35],
  [.95,.95,.55,-.15,-.55,.15,-.15,-.05,.85,-.35],
  [-.35,-.35,-.35,-.25,.05,-.75,-.45,-.85,-.35,-.35],
  [-.35,-.45,-.35,-.15,-.45,-.65,-.35,-.75,-.35,-.35],
  [-.35,.85,-.15,.75,-.35,.35,-.15,-.75,-.15,-.25],
  [-.35,-.35,-.35,-.75,-.75,-.75,-.05,-.75,-.35,.25],
  [-.15,-.35,-.25,-.35,-.55,.55,-.45,-.75,.05,-.35],
  [-.35,-.05,-.35,-.15,-.15,-.35,-.45,-.75,-.35,-.35],
  [-.35,-.25,-.35,-.95,-.45,-.35,-.65,-.85,-.35,-.35]
];
const granValues = [
  [-.65,-.95,-.85,-.95,-.95,-.55,-.95,.35],
  [-.55,-.95,-.85,-.95,-.95,-.45,-.95,.25],
  [-.65,-.95,-.75,-.95,-.95,-.55,-.95,-.85],
  [-.65,-.95,-.85,-.95,-.95,-.55,-.95,-.95],
  [.95,.95,.35,.65,.95,-.55,.95,-.95],
  [.95,-.95,.85,.95,.55,-.65,.95,.05],
  [.95,-.65,.95,.95,.95,.95,.35,.95],
  [.95,-.15,.95,.95,.45,.95,.95,.95],
  [.95,.65,.95,.05,.95,.45,.15,.25],
  [.95,-.95,.95,.35,.65,.25,-.05,-.65],
  [-.65,.95,-.85,.75,.65,-.65,.95,-.15],
  [-.65,.95,-.85,.35,.95,-.65,.45,.15],
  [-.15,.95,.85,.05,.95,-.45,.05,.75],
  [-.65,.95,-.85,.05,.95,-.65,-.15,.15],
  [-.35,.45,.95,.95,-.45,.95,.95,.45],
  [-.65,.95,.75,-.15,.25,.95,-.25,.45],
  [-.65,.45,.45,.95,-.15,-.65,.95,.95],
  [-.65,.85,-.85,-.85,.45,-.65,-.75,-.75],
  [-.65,-.45,-.85,-.95,-.95,-.05,-.95,-.95],
  [-.65,-.35,-.75,-.75,-.95,-.45,.95,-.95],
  [-.65,-.65,-.85,-.95,-.95,-.55,-.45,-.95],
  [-.25,-.55,-.65,-.65,-.85,.05,-.95,.15],
  [-.45,-.95,-.75,-.85,-.95,-.55,-.95,-.95]
];
const macroValues = [
  [-.25,-.25],[-.25,-.15],[-.25,-.25],[-.25,-.25],[-.25,-.25],[-.25,-.25],[-.25,-.25],[-.25,-.25],[-.25,-.25],[-.25,-.25],[-.25,-.25],[-.25,-.25],
  [-.25,-.25],[-.25,-.25],[-.25,-.25],[-.25,-.25],[-.25,-.25],[-.25,-.25],[-.25,.05],[-.25,.95],[.95,.35],[-.15,-.15],[-.25,-.25]
];

// ---------- Panel C data: stacked percent bars ----------
const clusters = ["B cell", "Endothelium", "Granulocyte", "Macrophages", "others"];
const ckPercent = [50.4, 69.7, 41.4, 53, 62];
const tavPercent = [49.6, 30.3, 58.6, 47, 38];
const clusterCounts = ["(n = 1,170)", "(n = 966)", "(n = 9,869)", "(n = 444)", "(n = 782)"];
const percentTicks = [0, 10, 20, 30, 40, 50, 60, 70, 80, 90, 100];
const percentGrid = d3.range(0, 101, 5);

const svg = d3.select("#chart").append("svg")
  .attr("width", 1072)
  .attr("height", 890);

// panel letters
[["A", 2, 18], ["B", 1, 435], ["C", 464, 437]].forEach(d => {
  svg.append("text").attr("x", d[1]).attr("y", d[2])
    .style("font-size", "21px").style("font-weight", "bold").text(d[0]);
});

// ---------- Panel A ----------
const umapY = d3.scaleLinear().domain([-14.2, 16.3]).range([368, 15]);
const color = d3.scaleOrdinal().domain(cellTypes).range(cellColors);

function drawUmap(x, title, points, masses, gaps) {
  const g = svg.append("g");
  const blob = d3.line().x(d => x(d[0])).y(d => umapY(d[1])).curve(d3.curveCatmullRomClosed);

  cellTypes.forEach(type => {
    g.selectAll(null).data(masses[type] || []).enter().append("path")
      .attr("d", blob)
      .attr("fill", color(type));
  });

  g.selectAll(null).data(gaps).enter().append("circle")
    .attr("cx", d => x(d[0]))
    .attr("cy", d => umapY(d[1]))
    .attr("r", 0.9)
    .attr("fill", "#fff");

  cellTypes.forEach(type => {
    g.selectAll(null).data(points[type]).enter().append("circle")
      .attr("cx", d => x(d[0]))
      .attr("cy", d => umapY(d[1]))
      .attr("r", 1.2)
      .attr("fill", color(type));
  });

  const axis = g.append("g")
    .attr("transform", "translate(0,368)")
    .call(d3.axisBottom(x).tickValues([-10, -5, 0, 5, 10]).tickSize(3).tickPadding(3));
  axis.select(".domain").attr("stroke-width", 1.4);
  axis.selectAll("text").style("font-size", "9.3px").attr("fill", "#111");

  g.append("text")
    .attr("x", x(0.45))
    .attr("y", 12)
    .attr("text-anchor", "middle")
    .style("font-size", "8.5px")
    .style("font-weight", "bold")
    .text(title);
}

const ckX = d3.scaleLinear().domain([-13.35, 14.2]).range([38, 498]);
const tavX = d3.scaleLinear().domain([-13.4, 14.2]).range([503, 964]);

drawUmap(ckX, "CK", {
  "Granulocyte": ckGranulocyte, "B cell": ckBcell, "Endothelium": ckEndothelium,
  "others": ckOthers, "Macrophages": ckMacrophages
}, { "Granulocyte": ckGranulocyteMass, "B cell": ckBcellMass, "Endothelium": ckEndotheliumMass }, ckGaps);

drawUmap(tavX, "TAV", {
  "Granulocyte": tavGranulocyte, "B cell": tavBcell, "Endothelium": tavEndothelium,
  "others": tavOthers, "Macrophages": tavMacrophages
}, { "Granulocyte": tavGranulocyteMass }, tavGaps);

const umapAxis = svg.append("g")
  .attr("transform", "translate(38,0)")
  .call(d3.axisLeft(umapY).tickValues([-10, -5, 0, 5, 10, 15]).tickSize(3).tickPadding(3));
umapAxis.select(".domain").attr("stroke-width", 1.4);
umapAxis.selectAll("text").style("font-size", "9.3px").attr("fill", "#111");

svg.append("text")
  .attr("transform", "translate(16,192) rotate(-90)")
  .attr("text-anchor", "middle")
  .style("font-size", "10.5px")
  .text("UMAP_2");

svg.append("text")
  .attr("x", 500)
  .attr("y", 395)
  .attr("text-anchor", "middle")
  .style("font-size", "10.5px")
  .text("UMAP_1");

// cell type legend
const umapLegendY = d3.scalePoint().domain(cellTypes).range([169, 220]);
svg.selectAll(".umap-dot").data(cellTypes).enter().append("circle")
  .attr("class", "umap-dot")
  .attr("cx", 981)
  .attr("cy", d => umapLegendY(d))
  .attr("r", 3.4)
  .attr("fill", d => color(d));
svg.selectAll(".umap-label").data(cellTypes).enter().append("text")
  .attr("class", "umap-label")
  .attr("x", 993)
  .attr("y", d => umapLegendY(d))
  .attr("dy", "0.35em")
  .style("font-size", "9.6px")
  .attr("fill", "#222")
  .text(d => d);

// ---------- Panel B ----------
const rowY = d3.scaleBand().domain(heatRows).range([484, 787.7]).paddingInner(0.1);
const heatColor = d3.scaleQuantize().domain([-1, 1]).range(heatPalette);

function drawHeatGroup(genes, values, x0, x1) {
  const x = d3.scaleBand().domain(genes).range([x0, x1]).paddingInner(0.1);
  const g = svg.append("g");

  heatRows.forEach((row, i) => {
    g.selectAll(null).data(genes).enter().append("rect")
      .attr("x", d => x(d))
      .attr("y", rowY(row))
      .attr("width", x.bandwidth())
      .attr("height", rowY.bandwidth())
      .attr("fill", (d, j) => heatColor(values[i][j]));
  });

  g.selectAll(null).data(genes).enter().append("text")
    .attr("transform", d => `translate(${x(d) + x.bandwidth() / 2},795) rotate(90)`)
    .attr("dy", "0.35em")
    .style("font-size", "13px")
    .attr("fill", "#222")
    .text(d => d);
}

drawHeatGroup(bcellGenes, bcellValues, 28, 79);
drawHeatGroup(endoGenes, endoValues, 89, 218.3);
drawHeatGroup(granGenes, granValues, 228.3, 332);
drawHeatGroup(macroGenes, macroValues, 341.7, 366.7);

[["B cell", 53, 465], ["Endothelium", 154, 467], ["Granulocyte", 282, 468], ["Macrophage", 372, 470]].forEach(d => {
  svg.append("text")
    .attr("x", d[1]).attr("y", d[2])
    .attr("text-anchor", "middle")
    .style("font-size", "12.5px")
    .style("font-weight", "bold")
    .attr("fill", "#222")
    .text(d[0]);
});

svg.selectAll(".row-label").data(heatRows).enter().append("text")
  .attr("class", "row-label")
  .attr("x", 374)
  .attr("y", d => rowY(d) + rowY.bandwidth() / 2)
  .attr("dy", "0.35em")
  .style("font-size", "13px")
  .attr("fill", "#222")
  .text(d => d);

// color bar
const barY = d3.scaleLinear().domain([-1, 1]).range([815, 483]);
svg.selectAll(".color-step").data(heatPalette).enter().append("rect")
  .attr("class", "color-step")
  .attr("x", 413)
  .attr("y", d => barY(heatColor.invertExtent(d)[1]))
  .attr("width", 21.7)
  .attr("height", d => barY(heatColor.invertExtent(d)[0]) - barY(heatColor.invertExtent(d)[1]) + 0.3)
  .attr("fill", d => d);
svg.selectAll(".color-tick").data(colorbarTicks).enter().append("text")
  .attr("class", "color-tick")
  .attr("x", 444)
  .attr("y", d => barY(d))
  .attr("dy", "0.35em")
  .style("font-size", "13px")
  .attr("fill", "#222")
  .text(d => d3.format("")(d));

// ---------- Panel C ----------
const barX = d3.scaleBand().domain(clusters).range([515.8, 1057.3]).paddingInner(0.1).paddingOuter(0.05);
const barPct = d3.scaleLinear().domain([0, 100]).range([791, 466]);

svg.selectAll(".grid").data(percentGrid).enter().append("line")
  .attr("class", "grid")
  .attr("x1", 506)
  .attr("x2", 1060)
  .attr("y1", d => barPct(d))
  .attr("y2", d => barPct(d))
  .attr("stroke", "#eeeeee")
  .attr("stroke-width", d => d % 10 === 0 ? 1.3 : 0.8);

const pctAxis = svg.append("g")
  .attr("transform", "translate(505,0)")
  .call(d3.axisLeft(barPct).tickValues(percentTicks).tickFormat(d => d + "%").tickSize(1.5).tickPadding(2));
pctAxis.select(".domain").remove();
pctAxis.selectAll("line").attr("stroke-width", 1.3);
pctAxis.selectAll("text").style("font-size", "6.6px").attr("fill", "#555");

svg.append("text")
  .attr("transform", "translate(477,628) rotate(-90)")
  .attr("text-anchor", "middle")
  .style("font-size", "7.8px")
  .style("font-weight", "bold")
  .text("Percent Weight");

const stackGreen = "#029e73";
const stackOrange = "#da5c11";

// CK on the bottom, TAV on top
const barSegments = clusters.flatMap((c, i) => [
  { cluster: c, low: 0, high: ckPercent[i], value: ckPercent[i], fill: stackOrange },
  { cluster: c, low: ckPercent[i], high: 100, value: tavPercent[i], fill: stackGreen }
]);

svg.selectAll(".segment").data(barSegments).enter().append("rect")
  .attr("class", "segment")
  .attr("x", d => barX(d.cluster))
  .attr("y", d => barPct(d.high))
  .attr("width", barX.bandwidth())
  .attr("height", d => barPct(d.low) - barPct(d.high))
  .attr("fill", d => d.fill)
  .attr("stroke", "#111")
  .attr("stroke-width", 2);

const segmentLabels = svg.selectAll(".segment-label").data(barSegments).enter().append("g")
  .attr("class", "segment-label")
  .attr("transform", d => `translate(${barX(d.cluster) + barX.bandwidth() / 2},${barPct((d.low + d.high) / 2)})`);
segmentLabels.append("rect")
  .attr("x", -13).attr("y", -7).attr("width", 26).attr("height", 14).attr("rx", 1.8)
  .attr("fill", "#fff")
  .attr("stroke", "#222")
  .attr("stroke-width", 0.8);
segmentLabels.append("text")
  .attr("text-anchor", "middle")
  .attr("dy", "0.35em")
  .style("font-size", "10.2px")
  .attr("fill", "#222")
  .text(d => d3.format(".0f")(d.value) + "%");

svg.selectAll(".count").data(clusters).enter().append("text")
  .attr("class", "count")
  .attr("x", d => barX(d) + barX.bandwidth() / 2)
  .attr("y", 811)
  .attr("text-anchor", "middle")
  .style("font-size", "10px")
  .attr("fill", "#222")
  .text((d, i) => clusterCounts[i]);

const clusterAxis = svg.append("g")
  .attr("transform", "translate(0,825)")
  .call(d3.axisBottom(barX).tickSize(1.5).tickPadding(1.5));
clusterAxis.select(".domain").remove();
clusterAxis.selectAll("line").attr("stroke-width", 1.3);
clusterAxis.selectAll("text").style("font-size", "6.8px").attr("fill", "#555");

svg.append("text")
  .attr("x", 786)
  .attr("y", 846)
  .attr("text-anchor", "middle")
  .style("font-size", "8.4px")
  .style("font-weight", "bold")
  .text("clusters annotation");

// TAV / CK legend
[["TAV", stackGreen, 421], ["CK", stackOrange, 436.5]].forEach(d => {
  svg.append("rect")
    .attr("x", 1014.5).attr("y", d[2]).attr("width", 15.5).attr("height", 15.5)
    .attr("fill", d[1]).attr("stroke", "#111").attr("stroke-width", 1.8);
  svg.append("text")
    .attr("x", 1035).attr("y", d[2] + 8).attr("dy", "0.35em")
    .style("font-size", "6.8px").attr("fill", "#222")
    .text(d[0]);
});
</script>
</body>
</html>
